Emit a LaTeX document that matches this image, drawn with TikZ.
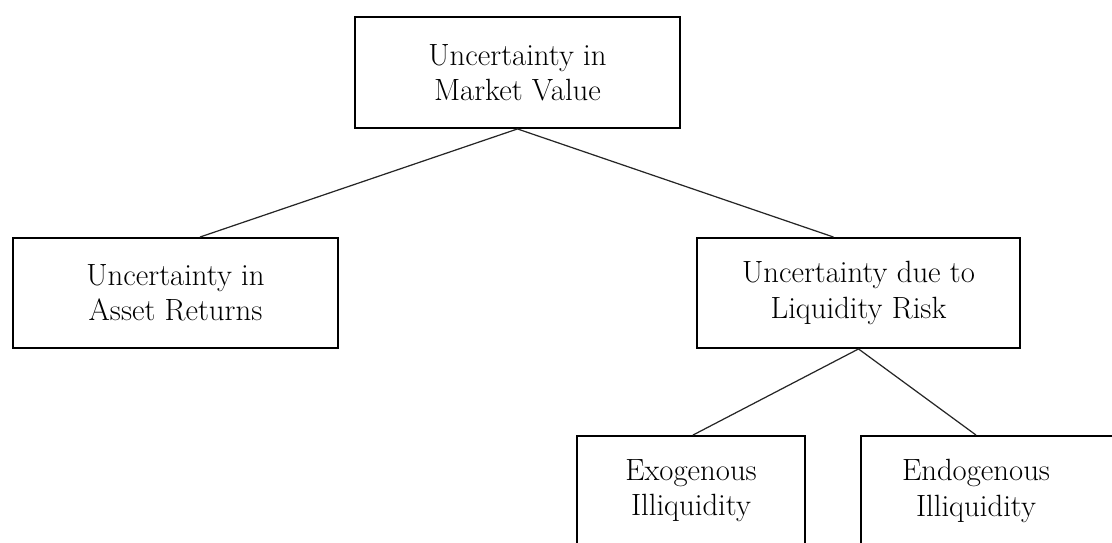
\documentclass[tikz,border=0pt]{standalone}
\begin{document}
\begin{tikzpicture}[x=0.02cm,y=-0.02cm,
  box/.style={draw=black,line width=1.1pt,rectangle,align=center,inner sep=0pt,
    font=\fontsize{17.5}{20}\selectfont},
  link/.style={draw=black!85,line width=0.7pt}]
\useasboundingbox (0,0) rectangle (1112,543);
\node[box,minimum width=6.5cm,minimum height=2.22cm] (top) at (517.5,72.5) {Uncertainty in\\Market Value};
\node[box,minimum width=6.5cm,minimum height=2.2cm] (left) at (175.5,293) {Uncertainty in\\Asset Returns};
\node[box,minimum width=6.46cm,minimum height=2.2cm] (right) at (858.5,293) {Uncertainty due to\\Liquidity Risk};
\node[box,minimum width=4.56cm,minimum height=2.2cm] (exo) at (691,491) {Exogenous\\Illiquidity};
\node[box,draw=none,minimum width=4.56cm,minimum height=2.2cm] (endo) at (976,491) {Endogenous\\Illiquidity};
\draw[line width=1.1pt] (endo.south west) rectangle (1140,436);
\draw[link] (top.south) -- ([xshift=0.49cm]left.north);
\draw[link] (top.south) -- ([xshift=-0.5cm]right.north);
\draw[link] (right.south) -- ([xshift=0.04cm]exo.north);
\draw[link] (right.south) -- (endo.north);
\end{tikzpicture}
\end{document}
